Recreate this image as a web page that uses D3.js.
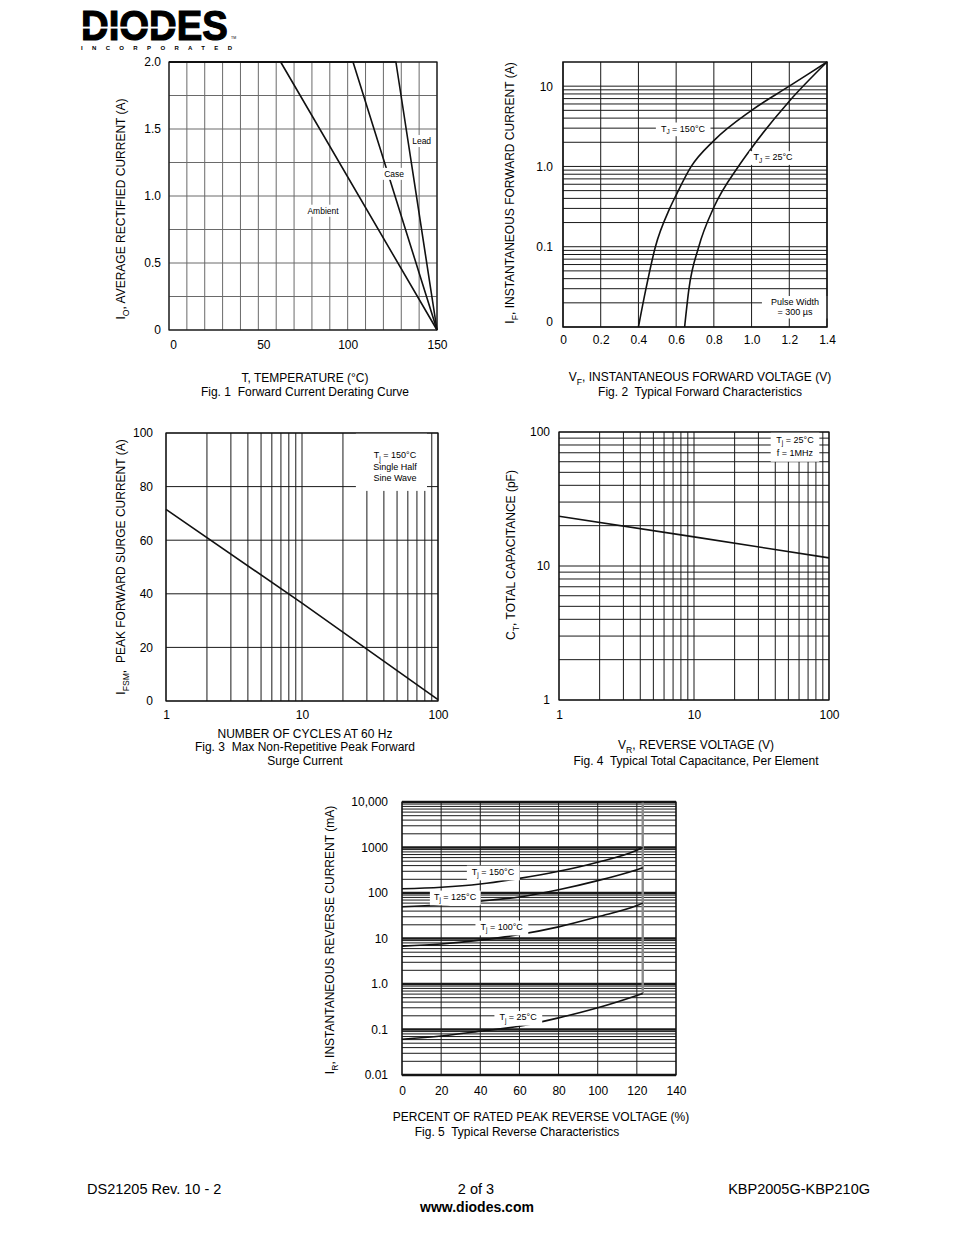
<!DOCTYPE html>
<html lang="en">
<head>
<meta charset="UTF-8">
<title>KBP2005G-KBP210G typical characteristics</title>
<style>
  body { margin: 0; background: #fff; }
  svg { display: block; font-family: "Liberation Sans", Arial, Helvetica, sans-serif; }
  svg text { white-space: pre; }
</style>
</head>
<body>
<svg id="page" width="954" height="1235"></svg>
<script src="https://d3js.org/d3.v7.min.js"></script>
<script>
// ---- Fig. 1 forward current derating ----
const ambientTemp = [0, 62.5, 150];
const ambientAmps = [2.0, 2.0, 0];
const caseTemp = [0, 103, 150];
const caseAmps = [2.0, 2.0, 0];
const leadTemp = [0, 127, 150];
const leadAmps = [2.0, 2.0, 0];
const fig1XTicks = [0, 50, 100, 150];
const fig1XLabels = ["0", "50", "100", "150"];
const fig1YTicks = [0, 0.5, 1.0, 1.5, 2.0];
const fig1YLabels = ["0", "0.5", "1.0", "1.5", "2.0"];

// ---- Fig. 2 forward characteristics ----
const vf150 = [0.40, 0.44, 0.49, 0.566, 0.60, 0.68, 0.80, 1.0, 1.2, 1.4];
const if150 = [0.01, 0.03, 0.1, 0.3, 0.44, 1.0, 2.1, 5.0, 10, 20];
const vf25 = [0.645, 0.668, 0.72, 0.80, 0.93, 1.0, 1.2, 1.4];
const if25 = [0.01, 0.03, 0.1, 0.31, 1.0, 1.7, 6.5, 20];
const fig2XTicks = [0, 0.2, 0.4, 0.6, 0.8, 1.0, 1.2, 1.4];
const fig2XLabels = ["0", "0.2", "0.4", "0.6", "0.8", "1.0", "1.2", "1.4"];
const fig2YTicks = [0.01, 0.1, 1, 10];
const fig2YLabels = ["0", "0.1", "1.0", "10"];

// ---- Fig. 3 surge current ----
const surgeCycles = [1, 10, 100];
const surgeAmps = [71.5, 36.5, 0.5];
const fig3XTicks = [1, 10, 100];
const fig3XLabels = ["1", "10", "100"];
const fig3YTicks = [0, 20, 40, 60, 80, 100];
const fig3YLabels = ["0", "20", "40", "60", "80", "100"];

// ---- Fig. 4 capacitance ----
const capVolts = [1, 10, 100];
const capPf = [23.5, 16.5, 11.5];
const fig4XTicks = [1, 10, 100];
const fig4XLabels = ["1", "10", "100"];
const fig4YTicks = [1, 10, 100];
const fig4YLabels = ["1", "10", "100"];

// ---- Fig. 5 reverse characteristics ----
const revPct = [0, 20, 40, 60, 80, 100, 120, 123];
const ir150 = [124, 134, 158, 210, 300, 476, 870, 1000];
const ir125 = [50, 55, 66, 82, 118, 187, 326, 360];
const ir100 = [6.8, 7.6, 9.2, 12.2, 18, 30, 53, 60];
const ir25 = [0.061, 0.072, 0.092, 0.118, 0.18, 0.3, 0.56, 0.62];
const breakdownPct = [123, 123];
const breakdownIr = [0.62, 10000];
const fig5XTicks = [0, 20, 40, 60, 80, 100, 120, 140];
const fig5XLabels = ["0", "20", "40", "60", "80", "100", "120", "140"];
const fig5YTicks = [0.01, 0.1, 1, 10, 100, 1000, 10000];
const fig5YLabels = ["0.01", "0.1", "1.0", "10", "100", "1000", "10,000"];

const svg = d3.select("#page");

// log grid lines 1..9 per decade
function logGrid(lo, hi) {
  const v = [];
  for (let e = lo; e < hi; e++) for (let k = 1; k < 10; k++) v.push(+(k * Math.pow(10, e)).toPrecision(6));
  v.push(Math.pow(10, hi));
  return v;
}
const isDecade = d => Math.abs(Math.log10(d) - Math.round(Math.log10(d))) < 1e-9;

// text with subscripts: parts = [[str], [str, 1], ...]
function addParts(text, parts, fs) {
  let shifted = false;
  parts.forEach(([s, sub]) => {
    const t = text.append("tspan").text(s);
    if (sub) {
      t.attr("font-size", fs * 0.72);
      if (!shifted) { t.attr("dy", fs * 0.3); shifted = true; }
    } else if (shifted) {
      t.attr("dy", -fs * 0.3); shifted = false;
    }
  });
}

function drawNote(g, x, y, n) {
  const fs = n.size || 9, lh = n.lineHeight || 10.5;
  const cx = x(n.x), cy = y(n.y);
  const ng = g.append("g");
  const rect = ng.append("rect").attr("fill", "#fff");
  const t0 = cy - (n.lines.length - 1) * lh / 2;
  const boxes = [];
  n.lines.forEach((parts, i) => {
    const t = ng.append("text").attr("x", cx).attr("y", t0 + i * lh).attr("dy", "0.35em")
      .attr("text-anchor", "middle").attr("font-size", fs);
    addParts(t, parts, fs);
    boxes.push(t.node().getBBox());
  });
  if (n.box) {
    rect.attr("x", x(n.box[0])).attr("width", x(n.box[1]) - x(n.box[0]))
      .attr("y", y(n.box[3])).attr("height", y(n.box[2]) - y(n.box[3]));
  } else {
    const p = n.pad == null ? 4 : n.pad;
    const x0 = d3.min(boxes, b => b.x), x1 = d3.max(boxes, b => b.x + b.width);
    const y0 = d3.min(boxes, b => b.y), y1 = d3.max(boxes, b => b.y + b.height);
    rect.attr("x", x0 - p).attr("width", x1 - x0 + 2 * p).attr("y", y0 - 1).attr("height", y1 - y0 + 2);
  }
}

function drawChart(c) {
  const g = svg.append("g");
  const x = (c.xLog ? d3.scaleLog() : d3.scaleLinear()).domain(c.xDomain).range([c.left, c.right]);
  const y = (c.yLog ? d3.scaleLog() : d3.scaleLinear()).domain(c.yDomain).range([c.bottom, c.top]);
  const gridColor = c.gridColor || "#1a1a1a";

  g.append("g").selectAll("line").data(c.xGrid).join("line")
    .attr("x1", d => x(d)).attr("x2", d => x(d))
    .attr("y1", c.top).attr("y2", c.bottom)
    .attr("stroke", gridColor).attr("stroke-width", 1);
  g.append("g").selectAll("line").data(c.yGrid).join("line")
    .attr("x1", c.left).attr("x2", c.right)
    .attr("y1", d => y(d)).attr("y2", d => y(d))
    .attr("stroke", gridColor)
    .attr("stroke-width", d => (c.yLog && isDecade(d)) ? (c.decadeWidth || 1) : 1);

  const line = d3.line().x(d => x(d[0])).y(d => y(d[1]))
    .curve(c.smooth ? d3.curveMonotoneX : d3.curveLinear);
  c.series.forEach(s => {
    g.append("path").datum(d3.zip(s.x, s.y)).attr("d", line)
      .attr("fill", "none").attr("stroke", s.color || "#111")
      .attr("stroke-width", s.width || 1.6).attr("stroke-linejoin", "round");
  });

  (c.notes || []).forEach(n => drawNote(g, x, y, n));

  g.append("rect").attr("x", c.left).attr("y", c.top)
    .attr("width", c.right - c.left).attr("height", c.bottom - c.top)
    .attr("fill", "none").attr("stroke", "#111").attr("stroke-width", c.borderWidth || 1.2);

  const xa = g.append("g").attr("transform", `translate(0,${c.bottom})`)
    .call(d3.axisBottom(x).tickValues(c.xTicks).tickFormat((d, i) => c.xLabels[i])
      .tickSize(0).tickPadding(c.xPad));
  xa.select(".domain").remove();
  xa.attr("font-size", 12).attr("font-family", null);
  if (c.xShift) xa.selectAll(".tick text").attr("dx", (d, i) => c.xShift[i] || 0);

  const ya = g.append("g").attr("transform", `translate(${c.left},0)`)
    .call(d3.axisLeft(y).tickValues(c.yTicks).tickFormat((d, i) => c.yLabels[i])
      .tickSize(0).tickPadding(c.yPad));
  ya.select(".domain").remove();
  ya.attr("font-size", 12).attr("font-family", null);
  if (c.yShift) ya.selectAll(".tick text").attr("dy", (d, i) => (c.yShift[i] || 0) + 4);

  const yl = g.append("text").attr("font-size", 12).attr("text-anchor", "middle")
    .attr("transform", `translate(${c.yLabelX},${c.yLabelY}) rotate(-90)`);
  addParts(yl, c.yLabel, 12);

  c.captions.forEach(cap => {
    const t = g.append("text").attr("font-size", 12).attr("text-anchor", "middle")
      .attr("x", cap.x).attr("y", cap.y);
    addParts(t, cap.parts, 12);
  });
}

// Fig. 1
drawChart({
  left: 169, right: 437, top: 62, bottom: 330,
  xDomain: [0, 150], yDomain: [0, 2],
  xGrid: d3.range(0, 151, 10), yGrid: d3.range(0, 2.01, 0.25),
  gridColor: "#6a6a6a",
  xTicks: fig1XTicks, xLabels: fig1XLabels, xPad: 10, xShift: [4, 5, 0, 0],
  yTicks: fig1YTicks, yLabels: fig1YLabels, yPad: 8,
  series: [
    { x: ambientTemp, y: ambientAmps },
    { x: caseTemp, y: caseAmps },
    { x: leadTemp, y: leadAmps }
  ],
  notes: [
    { lines: [[["Lead"]]], x: 141.4, y: 1.41, size: 8.5, pad: 2 },
    { lines: [[["Case"]]], x: 126, y: 1.165, size: 8.5, pad: 2 },
    { lines: [[["Ambient"]]], x: 86.2, y: 0.89, size: 8.5, pad: 2.5 }
  ],
  yLabel: [["I"], ["O", 1], [", AVERAGE RECTIFIED CURRENT (A)"]], yLabelX: 125, yLabelY: 209,
  captions: [
    { parts: [["T, TEMPERATURE (°C)"]], x: 305, y: 382 },
    { parts: [["Fig. 1  Forward Current Derating Curve"]], x: 305, y: 396 }
  ]
});

// Fig. 2
drawChart({
  left: 563, right: 827, top: 62, bottom: 327,
  xDomain: [0, 1.4], yDomain: [0.01, 20], yLog: true, smooth: true,
  xGrid: d3.range(0, 1.41, 0.2), yGrid: logGrid(-2, 1),
  borderWidth: 1.5,
  xTicks: fig2XTicks, xLabels: fig2XLabels, xPad: 8,
  yTicks: fig2YTicks, yLabels: fig2YLabels, yPad: 10, yShift: [-6, 0, 0, 0],
  series: [
    { x: vf150, y: if150 },
    { x: vf25, y: if25 }
  ],
  notes: [
    { lines: [[["T"], ["J", 1], [" = 150°C"]]], x: 0.636, y: 2.98, pad: 5 },
    { lines: [[["T"], ["J", 1], [" = 25°C"]]], x: 1.114, y: 1.31, pad: 4 },
    { lines: [[["Pulse Width"]], [["= 300 µs"]]], x: 1.23, y: 0.0177, pad: 9 }
  ],
  yLabel: [["I"], ["F", 1], [", INSTANTANEOUS FORWARD CURRENT (A)"]], yLabelX: 514, yLabelY: 193,
  captions: [
    { parts: [["V"], ["F", 1], [", INSTANTANEOUS FORWARD VOLTAGE (V)"]], x: 700, y: 381 },
    { parts: [["Fig. 2  Typical Forward Characteristics"]], x: 700, y: 396 }
  ]
});

// Fig. 3
drawChart({
  left: 166, right: 438, top: 433, bottom: 701,
  xDomain: [1, 100], yDomain: [0, 100], xLog: true,
  xGrid: logGrid(0, 2), yGrid: d3.range(0, 101, 20),
  xTicks: fig3XTicks, xLabels: fig3XLabels, xPad: 9,
  yTicks: fig3YTicks, yLabels: fig3YLabels, yPad: 13,
  series: [{ x: surgeCycles, y: surgeAmps }],
  notes: [
    { lines: [[["T"], ["j", 1], [" = 150°C"]], [["Single Half"]], [["Sine Wave"]]],
      x: 48.3, y: 87.5, lineHeight: 11.5, box: [24.9, 83, 78.4, 100] }
  ],
  yLabel: [["I"], ["FSM", 1], [",  PEAK FORWARD SURGE CURRENT (A)"]], yLabelX: 125, yLabelY: 567,
  captions: [
    { parts: [["NUMBER OF CYCLES AT 60 Hz"]], x: 305, y: 738 },
    { parts: [["Fig. 3  Max Non-Repetitive Peak Forward"]], x: 305, y: 751 },
    { parts: [["Surge Current"]], x: 305, y: 765 }
  ]
});

// Fig. 4
drawChart({
  left: 559, right: 829, top: 432, bottom: 700,
  xDomain: [1, 100], yDomain: [1, 100], xLog: true, yLog: true,
  xGrid: logGrid(0, 2), yGrid: logGrid(0, 2),
  xTicks: fig4XTicks, xLabels: fig4XLabels, xPad: 10,
  yTicks: fig4YTicks, yLabels: fig4YLabels, yPad: 9,
  series: [{ x: capVolts, y: capPf }],
  notes: [
    { lines: [[["T"], ["j", 1], [" = 25°C"]], [["f = 1MHz"]]],
      x: 56, y: 78.6, lineHeight: 13, box: [37, 84.8, 60, 100] }
  ],
  yLabel: [["C"], ["T", 1], [", TOTAL CAPACITANCE (pF)"]], yLabelX: 515, yLabelY: 555,
  captions: [
    { parts: [["V"], ["R", 1], [", REVERSE VOLTAGE (V)"]], x: 696, y: 749 },
    { parts: [["Fig. 4  Typical Total Capacitance, Per Element"]], x: 696, y: 765 }
  ]
});

// Fig. 5
drawChart({
  left: 402, right: 676, top: 802, bottom: 1075,
  xDomain: [0, 140], yDomain: [0.01, 10000], yLog: true, smooth: true,
  xGrid: d3.range(0, 141, 20), yGrid: logGrid(-2, 4), decadeWidth: 2.6,
  xTicks: fig5XTicks, xLabels: fig5XLabels, xPad: 11,
  yTicks: fig5YTicks, yLabels: fig5YLabels, yPad: 14,
  series: [
    { x: breakdownPct, y: breakdownIr, color: "#8a8a8a", width: 2.4 },
    { x: revPct, y: ir150 },
    { x: revPct, y: ir125 },
    { x: revPct, y: ir100 },
    { x: revPct, y: ir25 }
  ],
  notes: [
    { lines: [[["T"], ["j", 1], [" = 150°C"]]], x: 46.5, y: 297, pad: 5 },
    { lines: [[["T"], ["j", 1], [" = 125°C"]]], x: 27.1, y: 84, pad: 4 },
    { lines: [[["T"], ["j", 1], [" = 100°C"]]], x: 50.9, y: 18.3, pad: 5 },
    { lines: [[["T"], ["j", 1], [" = 25°C"]]], x: 59.3, y: 0.19, pad: 5 }
  ],
  yLabel: [["I"], ["R", 1], [", INSTANTANEOUS REVERSE CURRENT (mA)"]], yLabelX: 334, yLabelY: 940,
  captions: [
    { parts: [["PERCENT OF RATED PEAK REVERSE VOLTAGE (%)"]], x: 541, y: 1121 },
    { parts: [["Fig. 5  Typical Reverse Characteristics"]], x: 517, y: 1136 }
  ]
});

// ---- logo ----
const logo = svg.append("g");
// font size picked so the natural width is ~147px; stretched vertically to the logo height
logo.append("text").attr("transform", "translate(81,39.5) scale(1,1.1)")
  .attr("font-size", 38.3).attr("font-weight", 900)
  .attr("stroke", "#000").attr("stroke-width", 1.1).text("DIODES");
logo.append("rect").attr("x", 81).attr("y", 26.6).attr("width", 96).attr("height", 2).attr("fill", "#fff");
logo.append("text").attr("x", 81).attr("y", 50).attr("font-size", 6).attr("font-weight", "bold")
  .attr("textLength", 151).attr("lengthAdjust", "spacing").text("INCORPORATED");
logo.append("text").attr("x", 231).attr("y", 39).attr("font-size", 3.5).text("TM");

// ---- footer ----
const foot = svg.append("g").attr("font-size", 14.5);
foot.append("text").attr("x", 87).attr("y", 1194).text("DS21205 Rev. 10 - 2");
foot.append("text").attr("x", 476).attr("y", 1194).attr("text-anchor", "middle").text("2 of 3");
foot.append("text").attr("x", 870).attr("y", 1194).attr("text-anchor", "end").text("KBP2005G-KBP210G");
foot.append("text").attr("x", 477).attr("y", 1212).attr("text-anchor", "middle")
  .attr("font-weight", "bold").attr("font-size", 14).text("www.diodes.com");
</script>
</body>
</html>
